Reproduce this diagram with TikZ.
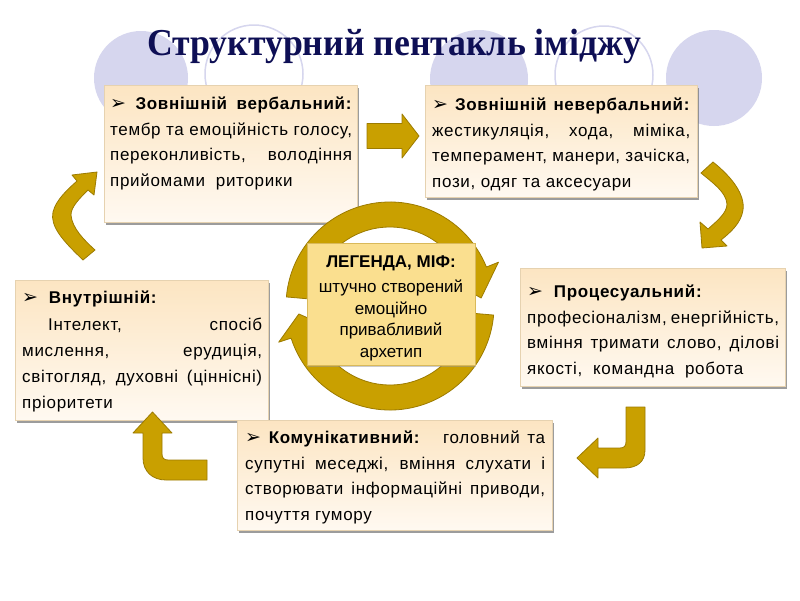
\documentclass[tikz,border=0pt]{standalone}
\usepackage{fontspec}
\setmainfont{Liberation Sans}[LetterSpace=4]
\newfontfamily\plainsans{Liberation Sans}
\newfontfamily\titlefont{Liberation Serif}
\newfontfamily\symfont{DejaVu Sans}
\usetikzlibrary{shadows}
\definecolor{gold}{HTML}{C9A000}
\definecolor{golddark}{HTML}{9C7B00}
\definecolor{lav}{HTML}{D6D6EE}
\definecolor{peachtop}{HTML}{FCE5C2}
\definecolor{peachbot}{HTML}{FFF9F1}
\definecolor{boxline}{HTML}{E6D2B0}
\definecolor{legfill}{HTML}{FADF8F}
\definecolor{legline}{HTML}{D9B95A}
\definecolor{navy}{HTML}{0E0F55}
\newcommand{\bul}{{\symfont\fontsize{19}{19}\selectfont ➢}}
\newcommand{\fstrut}{\rule{0pt}{12.5pt}}
\begin{document}
\begin{tikzpicture}[x=1pt,y=-1pt,
  card/.style={draw=boxline, line width=0.6pt, top color=peachtop, bottom color=peachbot,
    anchor=north west, inner sep=0pt,
    drop shadow={shadow xshift=1.5pt, shadow yshift=-2.5pt, fill=black!55, opacity=0.7}},
  txt/.style={anchor=north west, inner sep=0pt, align=justify,
    font=\fontsize{17}{25.5}\selectfont},
  goldarrow/.style={fill=gold, draw=golddark, line width=0.8pt, line join=round},
  bgdisc/.style={fill=lav},
  bgring/.style={draw=lav, line width=1.5pt}]
\useasboundingbox (0,0) rectangle (800,600);
\fill[white] (0,0) rectangle (800,600);

% background circles
\fill[bgdisc] (141,78) circle[radius=47];
\draw[bgring] (254,74) circle[radius=49];
\fill[bgdisc] (479,79) circle[radius=49];
\draw[bgring] (604,75) circle[radius=49];
\fill[bgdisc] (714,78) circle[radius=48];

% title
\node[anchor=base, inner sep=0pt, text=navy, font=\titlefont\bfseries\fontsize{38}{40}\selectfont] (title) at (394,55)
  {\scalebox{0.94}[1]{Структурний пентакль іміджу}};

% boxes
\node[card, minimum width=253, minimum height=137] (tl) at (104,85) {};
\node[card, minimum width=272, minimum height=112] (tr) at (425,85) {};
\node[card, minimum width=265, minimum height=118] (rt) at (520,268) {};
\node[card, minimum width=253, minimum height=140] (lf) at (15,280) {};
\node[card, minimum width=315, minimum height=110] (bt) at (237,420) {};

\node[txt, text width=242] (tltext) at (110,97) {\noindent\fstrut\bul\ \textbf{Зовнішній вербальний:}\linebreak
тембр та емоційність голосу,\linebreak
переконливість, володіння\linebreak
прийомами\ \ риторики};

\node[txt, text width=258] (trtext) at (432,98) {\noindent\fstrut\bul\ \textbf{Зовнішній невербальний:}\linebreak
жестикуляція, хода, міміка,\linebreak
темперамент, манери, зачіска,\linebreak
пози, одяг та аксесуари};

\node[txt, text width=252] (rttext) at (527,285) {\noindent\fstrut\bul\ \ \textbf{Процесуальний:}\\
професіоналізм, енергійність,\linebreak
вміння тримати слово, ділові\linebreak
якості,\ \ командна\ \ робота};

\node[txt, text width=240, font=\fontsize{17}{26.2}\selectfont] (lftext) at (22,291) {\noindent\fstrut\bul\ \ \textbf{Внутрішній:}\\
\hspace*{26pt}Інтелект, спосіб\linebreak
мислення, ерудиція,\linebreak
світогляд, духовні (ціннісні)\linebreak
пріоритети};

\node[txt, text width=300] (bttext) at (245,431) {\noindent\fstrut\bul\ \textbf{Комунікативний:}\ \ \ головний та\linebreak
супутні меседжі, вміння слухати і\linebreak
створювати інформаційні приводи,\linebreak
почуття гумору};

% straight arrow
\draw[goldarrow] (367,123.5) -- (402,123.5) -- (402,114) -- (419,136) -- (402,158) -- (402,148.5) -- (367,148.5) -- cycle;
% curved arrow right (top right)
\draw[goldarrow] (701,173) -- (713,162) .. controls (733,178) and (745,195) .. (743,210)
  .. controls (741,223) and (731,232) .. (721,240) -- (727,246) -- (702,248) -- (700,222) -- (708,229)
  .. controls (717,221) and (727,213) .. (727,204) .. controls (726,192) and (713,183) .. (701,173) -- cycle;
% J arrow (bottom right)
\draw[goldarrow] (626,407) -- (645,407) -- (645,450) .. controls (645,462) and (637,468) .. (624,468)
  -- (598,468) -- (598,478) -- (577,458) -- (598,438) -- (598,448) -- (620,448)
  .. controls (624,448) and (626,446) .. (626,442) -- cycle;
% L arrow (bottom left)
\draw[goldarrow] (207,460) -- (207,480) -- (166,480) .. controls (152,480) and (143,471) .. (143,458)
  -- (143,433) -- (133,433) -- (152.5,412) -- (172,433) -- (162,433) -- (162,454)
  .. controls (162,458) and (164,460) .. (168,460) -- cycle;
% curved arrow left
\draw[goldarrow] (83,260) .. controls (62,240) and (50,226) .. (53,212)
  .. controls (56,200) and (67,190) .. (77,181) -- (72,175) -- (97,172) -- (94,195) -- (88,190)
  .. controls (79,199) and (71,207) .. (71,215) .. controls (72,228) and (84,240) .. (95,250) -- cycle;

% circular arrows
\begin{scope}[shift={(390,306)}]
\draw[goldarrow] (-175:79) arc[start angle=-175, end angle=-22, radius=79] -- (-22:66) -- (-5:91.5)
  -- (-22:117) -- (-22:104) arc[start angle=-22, end angle=-175, radius=104] -- cycle;
\draw[goldarrow] (5:79) arc[start angle=5, end angle=162, radius=79] -- (162:66) -- (175:91.5)
  -- (162:117) -- (162:104) arc[start angle=162, end angle=5, radius=104] -- cycle;
\end{scope}

% legend box
\node[anchor=north west, inner sep=0pt, minimum width=168, minimum height=122, fill=legfill, draw=legline, line width=0.6pt,
  drop shadow={shadow xshift=1pt, shadow yshift=-1.5pt, fill=black!40, opacity=0.5}] (leg) at (307,243) {};
\node[anchor=north, inner sep=0pt, align=center, font=\plainsans\fontsize{17}{21.5}\selectfont] (legtext) at (391,255)
  {\fstrut\textbf{ЛЕГЕНДА, МІФ:}\\[3.5pt] штучно\ створений\\ емоційно\\ привабливий\\ архетип};
\end{tikzpicture}
\end{document}
